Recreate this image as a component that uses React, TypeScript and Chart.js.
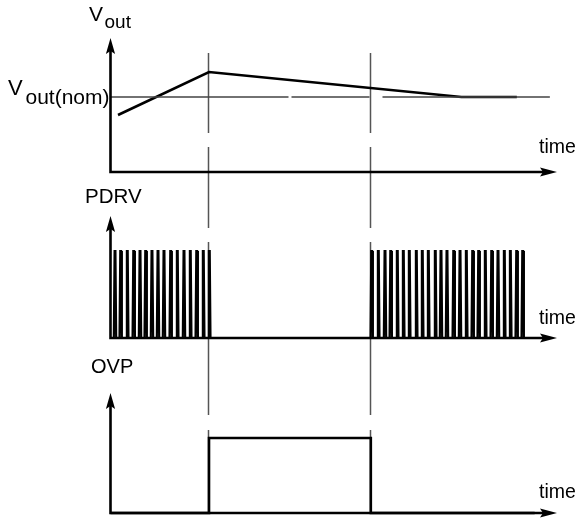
import React, { useEffect, useRef } from "react";
import { Chart, registerables } from "chart.js";

Chart.register(...registerables);

// ---------- data (time in arbitrary units, 0 = origin, 100 = end of time axis) ----------
const eventTimes = [22.06, 58.3]; // OVP on / OVP off

// Vout (normalised to Vout(nom) = 1)
const voutTime = [1.68, 22.06, 78.6, 91.0];
const voutValue = [0.76, 1.333, 1.0, 1.0];
const voutNominal = 1.0;
const nominalSpan = [0, 98.4];

// PDRV pulse centres
const pdrvBurst1 = [1.01, 2.28, 3.76, 5.2, 6.61, 7.88, 9.29, 10.64, 11.98, 13.48, 14.96, 16.46, 17.87, 19.31, 20.78, 22.13];
const pdrvBurst2 = [58.5, 59.98, 61.48, 62.76, 64.23, 65.58, 66.92, 68.49, 69.83, 71.18, 72.74, 74.02, 75.36, 76.87, 78.28, 79.69, 81.12, 82.46, 83.94, 85.38, 86.79, 88.2, 89.55, 90.97, 92.32];
const pdrvHigh = 1;

// OVP signal
const ovpTime = [0, 22.06, 22.06, 58.3, 58.3, 95];
const ovpValue = [0, 0, 1, 1, 0, 0];

// ---------- layout ----------
const W = 581;
const H = 522;
const X0_PX = 110.5;
const PX_PER_T = 4.465;
const XMIN = -X0_PX / PX_PER_T;
const XMAX = (W - X0_PX) / PX_PER_T;

const panels = [
  { id: "y1", basePx: 172, unitPx: 75, arrowTop: 1.787 },
  { id: "y2", basePx: 338, unitPx: 87, arrowTop: 1.402 },
  { id: "y3", basePx: 513, unitPx: 75, arrowTop: 1.6 },
];
const AXIS_END_T = 100;
const MARKER_TOP_PX = 53;
const MARKER_BOTTOM_PX = 513;
const FONT = '"Liberation Sans", Arial, Helvetica, sans-serif';

function yScaleFor(p: { basePx: number; unitPx: number }) {
  return {
    type: "linear" as const,
    display: false,
    min: -(H - p.basePx) / p.unitPx,
    max: p.basePx / p.unitPx,
  };
}

function pulsePoints(bursts: number[][], high: number, end: number) {
  const pts: { x: number; y: number }[] = [{ x: 0, y: 0 }];
  bursts.forEach((b) => {
    b.forEach((t) => {
      pts.push({ x: t - 0.26, y: 0 });
      pts.push({ x: t - 0.09, y: high });
      pts.push({ x: t + 0.09, y: high });
      pts.push({ x: t + 0.26, y: 0 });
    });
  });
  pts.push({ x: end, y: 0 });
  return pts;
}

const diagramPlugin = {
  id: "diagram",
  beforeDatasetsDraw(chart: any) {
    const ctx = chart.ctx;
    const xs = chart.scales.x;
    ctx.save();
    ctx.strokeStyle = "#555";
    ctx.lineWidth = 1.5;
    ctx.setLineDash([80, 14, 81, 14, 173, 15, 200]);
    eventTimes.forEach((t) => {
      const x = Math.round(xs.getPixelForValue(t)) - 0.5;
      ctx.beginPath();
      ctx.moveTo(x, MARKER_TOP_PX);
      ctx.lineTo(x, MARKER_BOTTOM_PX);
      ctx.stroke();
    });
    ctx.restore();
  },
  afterDatasetsDraw(chart: any) {
    const ctx = chart.ctx;
    const xs = chart.scales.x;
    ctx.save();
    ctx.strokeStyle = "#000";
    ctx.fillStyle = "#000";
    ctx.lineWidth = 2.6;
    ctx.setLineDash([]);
    panels.forEach((p) => {
      const ys = chart.scales[p.id];
      const x0 = xs.getPixelForValue(0);
      const y0 = ys.getPixelForValue(0);
      const yt = ys.getPixelForValue(p.arrowTop);
      const xt = xs.getPixelForValue(AXIS_END_T);
      ctx.lineCap = "square";
      ctx.beginPath();
      ctx.moveTo(x0, yt + 10);
      ctx.lineTo(x0, y0);
      ctx.lineTo(xt - 10, y0);
      ctx.stroke();
      // y arrow
      ctx.beginPath();
      ctx.moveTo(x0, yt);
      ctx.lineTo(x0 + 4.6, yt + 16);
      ctx.lineTo(x0, yt + 13);
      ctx.lineTo(x0 - 4.6, yt + 16);
      ctx.closePath();
      ctx.fill();
      // x arrow
      ctx.beginPath();
      ctx.moveTo(xt, y0);
      ctx.lineTo(xt - 17, y0 - 4.6);
      ctx.lineTo(xt - 14, y0);
      ctx.lineTo(xt - 17, y0 + 4.6);
      ctx.closePath();
      ctx.fill();
    });

    ctx.textBaseline = "alphabetic";
    ctx.textAlign = "left";
    const txt = (s: string, x: number, y: number, size: number) => {
      ctx.font = `${size}px ${FONT}`;
      ctx.fillText(s, x, y);
    };
    const tx = xs.getPixelForValue(AXIS_END_T) - 18;
    // Panel 1
    txt("V", 89, 21, 21);
    txt("out", 104.5, 28, 19);
    txt("V", 8, 95, 22);
    txt("out(nom)", 25.5, 103.5, 21);
    txt("time", tx, 153, 19.5);
    // Panel 2
    txt("PDRV", 85, 203, 20.5);
    txt("time", tx, 324, 19.5);
    // Panel 3
    txt("OVP", 91, 373, 20);
    txt("time", tx, 498, 19.5);
    ctx.restore();
  },
};

export default function App() {
  const ref = useRef<HTMLCanvasElement>(null);
  useEffect(() => {
    if (!ref.current) return;
    const chart = new Chart(ref.current, {
      type: "line",
      data: {
        datasets: [
          {
            label: "Vout(nom)",
            data: nominalSpan.map((t) => ({ x: t, y: voutNominal })),
            yAxisID: "y1",
            borderColor: "#444",
            borderWidth: 1.3,
            borderDash: [178, 3, 78, 13, 200],
            pointRadius: 0,
          },
          {
            label: "Vout",
            data: voutTime.map((t, i) => ({ x: t, y: voutValue[i] })),
            yAxisID: "y1",
            borderColor: "#000",
            borderWidth: 2.6,
            pointRadius: 0,
            tension: 0,
          },
          {
            label: "PDRV",
            data: pulsePoints([pdrvBurst1, pdrvBurst2], pdrvHigh, 93),
            yAxisID: "y2",
            borderColor: "#000",
            borderWidth: 2.2,
            pointRadius: 0,
            tension: 0,
            borderJoinStyle: "miter",
          },
          {
            label: "OVP",
            data: ovpTime.map((t, i) => ({ x: t, y: ovpValue[i] })),
            yAxisID: "y3",
            borderColor: "#000",
            borderWidth: 2.6,
            pointRadius: 0,
            tension: 0,
            borderJoinStyle: "miter",
          },
        ],
      },
      options: {
        responsive: false,
        animation: false,
        parsing: false as any,
        layout: { padding: 0 },
        plugins: { legend: { display: false }, tooltip: { enabled: false } },
        scales: {
          x: { type: "linear", display: false, min: XMIN, max: XMAX },
          y1: yScaleFor(panels[0]),
          y2: yScaleFor(panels[1]),
          y3: yScaleFor(panels[2]),
        },
      },
      plugins: [diagramPlugin],
    });
    return () => chart.destroy();
  }, []);
  return (
    <div style={{ position: "fixed", left: 0, top: 0, width: W, height: H, background: "#fff" }}>
      <canvas ref={ref} width={W} height={H} style={{ display: "block", width: W, height: H }} />
    </div>
  );
}
